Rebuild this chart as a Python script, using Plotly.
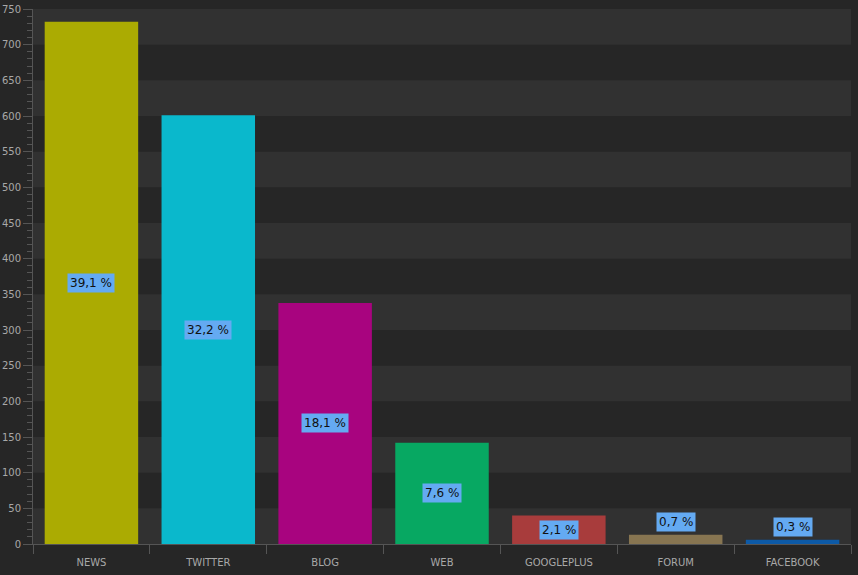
import plotly.graph_objects as go

kategori = ['NEWS', 'TWITTER', 'BLOG', 'WEB', 'GOOGLEPLUS', 'FORUM', 'FACEBOOK']
jumlah = [732, 601, 338, 142, 40, 13, 6]
persen = ['39,1 %', '32,2 %', '18,1 %', '7,6 %', '2,1 %', '0,7 %', '0,3 %']
warna = ['#abab02', '#0ab8cc', '#a8047f', '#07a862', '#a83c3c', '#877551', '#0d5aa7']

bg = '#262626'
band = '#313131'
grey = '#555555'

fig = go.Figure(go.Bar(
    x=kategori,
    y=jumlah,
    marker=dict(color=warna, line=dict(width=0)),
    hoverinfo='x+y',
))

# label persen di tengah batang, di atas batang kalau terlalu pendek
for k, v, p in zip(kategori, jumlah, persen):
    pendek = v < 30
    fig.add_annotation(
        x=k, y=v if pendek else v / 2,
        yanchor='bottom' if pendek else 'middle',
        yshift=3 if pendek else 0,
        text=p, showarrow=False,
        bgcolor='#64aaf2', borderpad=2,
        font=dict(family='DejaVu Sans', size=12, color='#111111'),
    )

# pita latar selang-seling tiap 50
for y0 in range(0, 750, 100):
    fig.add_hrect(y0=y0, y1=y0 + 50, fillcolor=band, line_width=0, layer='below')

fig.update_layout(
    width=858, height=575,
    paper_bgcolor=bg, plot_bgcolor=bg,
    margin=dict(l=33, r=7, t=9, b=31),
    bargap=0.2,
    showlegend=False,
    font=dict(family='DejaVu Sans', color='#a8a8a8'),
    xaxis=dict(
        automargin=False,
        showgrid=False, showline=True, linecolor=grey, linewidth=1,
        ticks='outside', tickson='boundaries', ticklen=9, tickcolor=grey,
        ticklabelstandoff=9,
        tickfont=dict(size=10, color='#a8a8a8'),
    ),
    yaxis=dict(
        automargin=False,
        range=[0, 750], dtick=50, showgrid=False, zeroline=False,
        showline=True, linecolor=grey, linewidth=1,
        ticks='outside', ticklen=9, tickcolor=grey,
        tickfont=dict(size=10, color='#a8a8a8'),
        minor=dict(dtick=10, ticks='outside', ticklen=5, tickcolor=grey, showgrid=False),
    ),
)

# buang margin bawaan body supaya grafik pas di jendela
fig.write_html("out.html", config={'displayModeBar': False},
               post_script="document.body.style.margin='0';")
